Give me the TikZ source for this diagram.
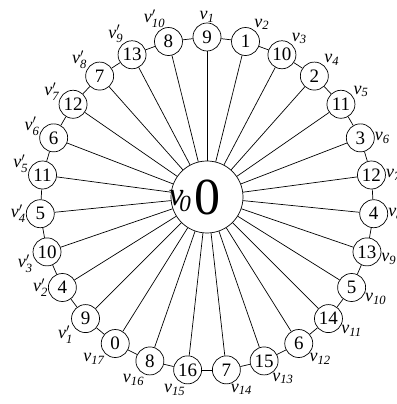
\documentclass[tikz,border=0pt]{standalone}
\usepackage{amsmath}
\usepackage{fontspec}
\setmainfont{Liberation Serif}
\usepackage{tikz}

\newcommand{\vname}[2]{$\textit{v}#2_{\textit{#1}}$}

\tikzset{
  vert/.style={draw, circle, minimum size=28pt, inner sep=0pt, line width=0.7pt,
    font=\fontsize{19}{19}\selectfont},
  vlab/.style={inner sep=0pt, label distance=0pt, font=\fontsize{18}{18}\selectfont},
  hub/.style={draw, circle, minimum size=72pt, inner sep=0pt, line width=0.7pt,
    fill=white, font=\fontsize{52}{52}\selectfont},
  spoke/.style={line width=0.7pt},
}

\begin{document}
\begin{tikzpicture}[x=1pt, y=1pt]
    \useasboundingbox (-207,-200) rectangle (189,204);

    \node[hub, label={[inner sep=0pt, label distance=-21pt, yshift=-4pt, font=\fontsize{33}{33}\selectfont]180:$\textit{v}_{\mkern-3mu\textit{0}}$}] (c) at (0,7) {0};

    % v_1 ... v_17, clockwise from the top
    \foreach \n/\num/\la [evaluate=\n as \ang using 90-(\n-1)*360/27] in
        {1/9/90, 2/1/53, 3/10/47, 4/2/47, 5/11/30, 6/3/0, 7/12/0, 8/4/0, 9/13/-5,
         10/5/-23, 11/14/-27, 12/6/-42, 13/15/-56, 14/7/-73, 15/16/-99, 16/8/-113, 17/0/-137}
        \node[vert, label={[vlab]\la:\vname{\n}{}}] (v\n) at (\ang:167) {\num};

    % v'_1 ... v'_10
    \foreach \n/\num/\la [evaluate=\n as \ang using 90-(\n+16)*360/27] in
        {1/9/-150, 2/4/180, 3/10/190, 4/5/180, 5/11/171, 6/6/170, 7/12/164, 8/7/150, 9/13/127, 10/8/103}
        \node[vert, label={[vlab]\la:\vname{\n}{'}}] (w\n) at (\ang:167) {\num};

    % spokes
    \foreach \n in {1,...,17} \draw[spoke] (c) -- (v\n);
    \foreach \n in {1,...,10} \draw[spoke] (c) -- (w\n);

    % rim
    \foreach \n [evaluate=\n as \m using int(\n+1)] in {1,...,16} \draw[spoke] (v\n) -- (v\m);
    \foreach \n [evaluate=\n as \m using int(\n+1)] in {1,...,9} \draw[spoke] (w\n) -- (w\m);
    \draw[spoke] (v17) -- (w1);
    \draw[spoke] (w10) -- (v1);
\end{tikzpicture}
\end{document}
